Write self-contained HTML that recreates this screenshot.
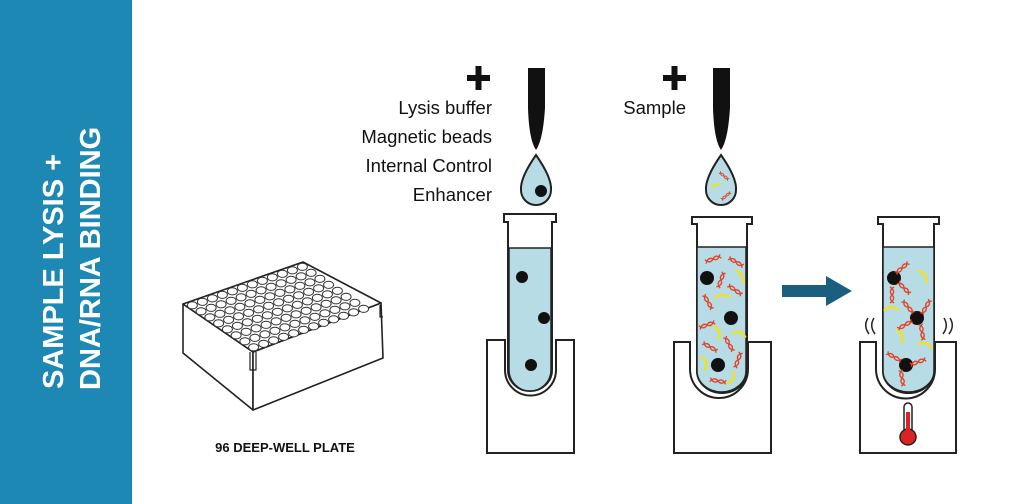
<!DOCTYPE html>
<html><head><meta charset="utf-8"><style>
html,body{margin:0;padding:0;background:#fff}
svg{display:block}
text{font-family:"Liberation Sans",sans-serif}
</style></head><body>
<svg width="1024" height="504" viewBox="0 0 1024 504" xmlns="http://www.w3.org/2000/svg">
<defs>
<g id="dna">
<path d="M-8,2 Q-4,-4 0,0 Q4,4 8,-2" fill="none" stroke="#e0452b" stroke-width="1.4"/>
<path d="M-8,-2 Q-4,4 0,0 Q4,-4 8,2" fill="none" stroke="#e0452b" stroke-width="1.4"/>
</g>
<g id="ban"><path d="M-4,-5 Q4,-3 3,6" fill="none" stroke="#f2e21c" stroke-width="2.4" stroke-linecap="round"/></g>
</defs>
<rect x="0" y="0" width="132" height="504" fill="#1d88b4"/>
<g fill="#fff" font-weight="bold" font-size="29">
<text transform="translate(63,389) rotate(-90)">SAMPLE LYSIS +</text>
<text transform="translate(100,390) rotate(-90)">DNA/RNA BINDING</text>
</g>

<!-- plate -->
<g stroke="#222" stroke-width="1.6" fill="#fff" stroke-linejoin="round">
<polygon points="183,304 253,352 253,410 183,353"/>
<polygon points="253,352 381,303 383,358 253,410"/>
<polygon points="183,304 303,262 381,303 253,352"/>
<path d="M250,352 v18 h6 v-18 M380,305 v12 h3" fill="none" stroke-width="1.2"/>
</g>
<g id="wells" fill="#fff" stroke="#333" stroke-width="1"></g>
<text x="285" y="452" text-anchor="middle" font-size="13" font-weight="bold" fill="#111">96 DEEP-WELL PLATE</text>

<!-- plus and labels -->
<g fill="#111">
<rect x="467" y="75" width="23" height="6"/><rect x="475.5" y="66" width="6" height="24"/>
<rect x="663" y="75" width="23" height="6"/><rect x="671.5" y="66" width="6" height="24"/>
</g>
<g font-size="18.5" fill="#111" text-anchor="end">
<text x="492" y="114">Lysis buffer</text>
<text x="492" y="143">Magnetic beads</text>
<text x="492" y="172">Internal Control</text>
<text x="492" y="201">Enhancer</text>
<text x="686" y="114">Sample</text>
</g>

<!-- pipettes -->
<path d="M528,68 h17 v40 Q543,140 536,150 Q529,140 528,108 Z" fill="#111"/>
<path d="M713,68 h17 v40 Q728,140 721,150 Q714,140 713,108 Z" fill="#111"/>
<path d="M536,155 Q520,178 521,190 A15,15 0 0 0 551,190 Q552,178 536,155 Z" fill="#b8dce6" stroke="#222" stroke-width="2"/>
<circle cx="541" cy="191" r="6" fill="#111"/>
<path d="M721,155 Q705,178 706,190 A15,15 0 0 0 736,190 Q737,178 721,155 Z" fill="#b8dce6" stroke="#222" stroke-width="2"/>
<use href="#dna" transform="translate(724,176) rotate(40) scale(0.7)"/>
<use href="#dna" transform="translate(726,196) rotate(-40) scale(0.7)"/>
<use href="#ban" transform="translate(716,186) rotate(-80) scale(0.7)"/>

<!-- tube 1 -->
<g>
<path d="M487,340 h18 v30 a25.5,25.5 0 0 0 51,0 v-30 h18 v113 h-87 Z" fill="#fff" stroke="#222" stroke-width="2"/>
<path d="M504,214 h52 v8 h-4 v148 a22,21 0 0 1 -44,0 v-148 h-4 Z" fill="#fff" stroke="#222" stroke-width="2"/>
<path d="M509,248 h42 v122 a21,21 0 0 1 -42,0 Z" fill="#b8dce6" stroke="#222" stroke-width="1.5"/>
<circle cx="522" cy="277" r="6" fill="#111"/><circle cx="544" cy="318" r="6" fill="#111"/><circle cx="531" cy="365" r="6" fill="#111"/>
</g>
<!-- tube 2 -->
<g>
<path d="M674,342 h16 v27 a29,29 0 0 0 58,0 v-27 h23 v111 h-97 Z" fill="#fff" stroke="#222" stroke-width="2"/>
<path d="M692,217 h60 v7 h-5 v147 a25,22 0 0 1 -50,0 v-147 h-5 Z" fill="#fff" stroke="#222" stroke-width="2"/>
<path d="M697,247 h49 v124 a24.5,21 0 0 1 -49,0 Z" fill="#b8dce6" stroke="#222" stroke-width="1.5"/>
<circle cx="707" cy="278" r="7" fill="#111"/><circle cx="731" cy="318" r="7" fill="#111"/><circle cx="718" cy="365" r="7" fill="#111"/>
<use href="#dna" transform="translate(713,259) rotate(-20)"/><use href="#dna" transform="translate(736,262) rotate(30)"/>
<use href="#dna" transform="translate(721,280) rotate(-70)"/><use href="#dna" transform="translate(735,290) rotate(35)"/>
<use href="#dna" transform="translate(708,302) rotate(60)"/><use href="#dna" transform="translate(707,325) rotate(-20)"/>
<use href="#dna" transform="translate(729,344) rotate(60)"/><use href="#dna" transform="translate(710,347) rotate(30)"/>
<use href="#dna" transform="translate(738,360) rotate(-70)"/><use href="#dna" transform="translate(718,381) rotate(10)"/>
<use href="#ban" transform="translate(740,276)"/><use href="#ban" transform="translate(722,297) rotate(-60)"/>
<use href="#ban" transform="translate(717,332) rotate(10)"/><use href="#ban" transform="translate(739,334) rotate(-40)"/>
<use href="#ban" transform="translate(704,363) rotate(20)"/><use href="#ban" transform="translate(731,378) rotate(60)"/>
</g>
<!-- tube 3 -->
<g>
<path d="M860,342 h16 v27 a29.5,29.5 0 0 0 59,0 v-27 h21 v111 h-96 Z" fill="#fff" stroke="#222" stroke-width="2"/>
<path d="M878,217 h61 v7 h-5 v147 a25.5,22 0 0 1 -51,0 v-147 h-5 Z" fill="#fff" stroke="#222" stroke-width="2"/>
<path d="M883,247 h51 v124 a25.5,21 0 0 1 -51,0 Z" fill="#b8dce6" stroke="#222" stroke-width="1.5"/>
<circle cx="894" cy="278" r="7" fill="#111"/><circle cx="917" cy="318" r="7" fill="#111"/><circle cx="906" cy="365" r="7" fill="#111"/>
<use href="#dna" transform="translate(902,268) rotate(-40)"/><use href="#dna" transform="translate(904,288) rotate(45)"/><use href="#dna" transform="translate(892,295) rotate(90)"/>
<use href="#dna" transform="translate(908,307) rotate(50)"/><use href="#dna" transform="translate(926,307) rotate(-60)"/><use href="#dna" transform="translate(905,325) rotate(-30)"/><use href="#dna" transform="translate(922,332) rotate(80)"/>
<use href="#dna" transform="translate(894,357) rotate(30)"/><use href="#dna" transform="translate(918,362) rotate(-20)"/><use href="#dna" transform="translate(902,378) rotate(80)"/>
<use href="#ban" transform="translate(923,276)"/><use href="#ban" transform="translate(891,309) rotate(-60)"/>
<use href="#ban" transform="translate(900,336) rotate(10)"/><use href="#ban" transform="translate(925,345) rotate(-40)"/>
<path d="M868,318 q-5,8 1,16 M874,318 q-5,8 1,16 M944,318 q5,8 -1,16 M950,318 q5,8 -1,16" fill="none" stroke="#222" stroke-width="1.5"/>
<rect x="904" y="403" width="8" height="30" rx="4" fill="#fff" stroke="#222" stroke-width="1.5"/>
<circle cx="908" cy="437" r="8" fill="#d22" stroke="#222" stroke-width="1.5"/>
<rect x="906" y="412" width="4" height="24" fill="#d22"/>
</g>

<!-- arrow -->
<polygon points="782,285 826,285 826,276 852,291 826,306 826,297 782,297" fill="#1a5f80"/>
</svg>
<script>
(function(){
var g=document.getElementById('wells');var ns='http://www.w3.org/2000/svg';
var ox=183,oy=304,ax=(303-183)/12,ay=(262-304)/12,bx=(253-183)/8,by=(352-304)/8;
for(var i=0;i<12;i++)for(var j=0;j<8;j++){
var cx=ox+ax*(i+0.5)+bx*(j+0.5), cy=oy+ay*(i+0.5)+by*(j+0.5);
var e=document.createElementNS(ns,'ellipse');
e.setAttribute('cx',cx.toFixed(1));e.setAttribute('cy',cy.toFixed(1));
e.setAttribute('rx','5');e.setAttribute('ry','3.6');g.appendChild(e);}
})();
</script>
</body></html>
